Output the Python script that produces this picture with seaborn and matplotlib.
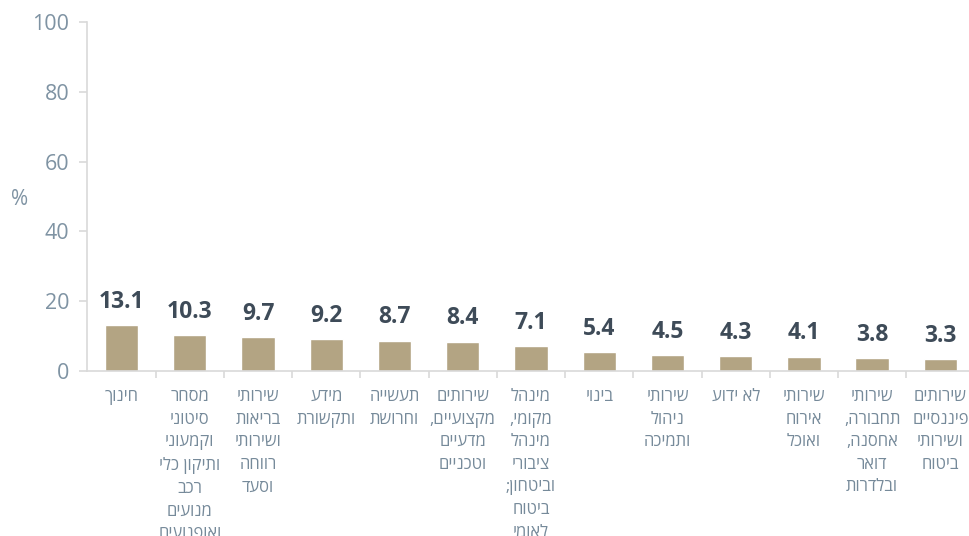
import matplotlib
matplotlib.use("Agg")
import matplotlib.pyplot as plt
from matplotlib.ticker import FixedLocator
import pandas as pd
import seaborn as sns

# Hebrew labels in logical order (reversed per line for drawing below)
categories = [
    "חינוך",
    "מסחר\nסיטוני\nוקמעוני\nותיקון כלי\nרכב\nמנועים\nואופנועים",
    "שירותי\nבריאות\nושירותי\nרווחה\nוסעד",
    "מידע\nותקשורת",
    "תעשייה\nוחרושת",
    "שירותים\nמקצועיים,\nמדעיים\nוטכניים",
    "מינהל\nמקומי,\nמינהל\nציבורי\nוביטחון;\nביטוח\nלאומי",
    "בינוי",
    "שירותי\nניהול\nותמיכה",
    "לא ידוע",
    "שירותי\nאירוח\nואוכל",
    "שירותי\nתחבורה,\nאחסנה,\nדואר\nובלדרות",
    "שירותים\nפיננסיים\nושירותי\nביטוח",
]
values = [13.1, 10.3, 9.7, 9.2, 8.7, 8.4, 7.1, 5.4, 4.5, 4.3, 4.1, 3.8, 3.3]
y_ticks = [0, 20, 40, 60, 80, 100]


def rtl(s):
    # matplotlib has no bidi support, so flip each line by hand
    return "\n".join(line[::-1] for line in s.split("\n"))


sns.set_style("white")
plt.rcParams["font.family"] = ["Open Sans", "DejaVu Sans"]

df = pd.DataFrame({"cat": [rtl(c) for c in categories], "val": values})

fig = plt.figure(figsize=(9.7, 5.36), dpi=100)
ax = fig.add_axes([0.0901, 0.308, 0.9146, 0.651])

sns.barplot(data=df, x="cat", y="val", color="#B3A483", saturation=1,
            width=0.49, ax=ax)

ax.bar_label(ax.containers[0], fmt="%.1f", padding=8, fontsize=16.5,
             fontweight="bold", color="#3E4B58")

ax.set_xlim(-0.5, len(values) - 0.5)
ax.set_ylim(0, 100)
ax.set_yticks(y_ticks)
ax.set_xlabel("")
ax.set_ylabel("%", rotation=0, fontsize=15, color="#7F93A3",
              va="center", ha="center")
ax.yaxis.set_label_coords(-0.076, 0.49)

sns.despine(ax=ax)
for side in ["left", "bottom"]:
    ax.spines[side].set_color("#D9D9D9")
    ax.spines[side].set_linewidth(1.2)

ax.tick_params(axis="y", labelsize=15.5, labelcolor="#7F93A3", color="#D9D9D9",
               length=6, width=1.2, left=True, pad=7)
ax.tick_params(axis="x", which="major", length=0, pad=13)
ax.xaxis.set_minor_locator(FixedLocator([i + 0.5 for i in range(len(values) - 1)]))
ax.tick_params(axis="x", which="minor", length=5, width=1.2, color="#D9D9D9",
               bottom=True)
for lbl in ax.get_xticklabels():
    lbl.set_fontsize(12)
    lbl.set_color("#768A9A")
    lbl.set_linespacing(1.55)
    lbl.set_verticalalignment("top")
    lbl.set_horizontalalignment("center")

fig.savefig("out.png", dpi=100)
